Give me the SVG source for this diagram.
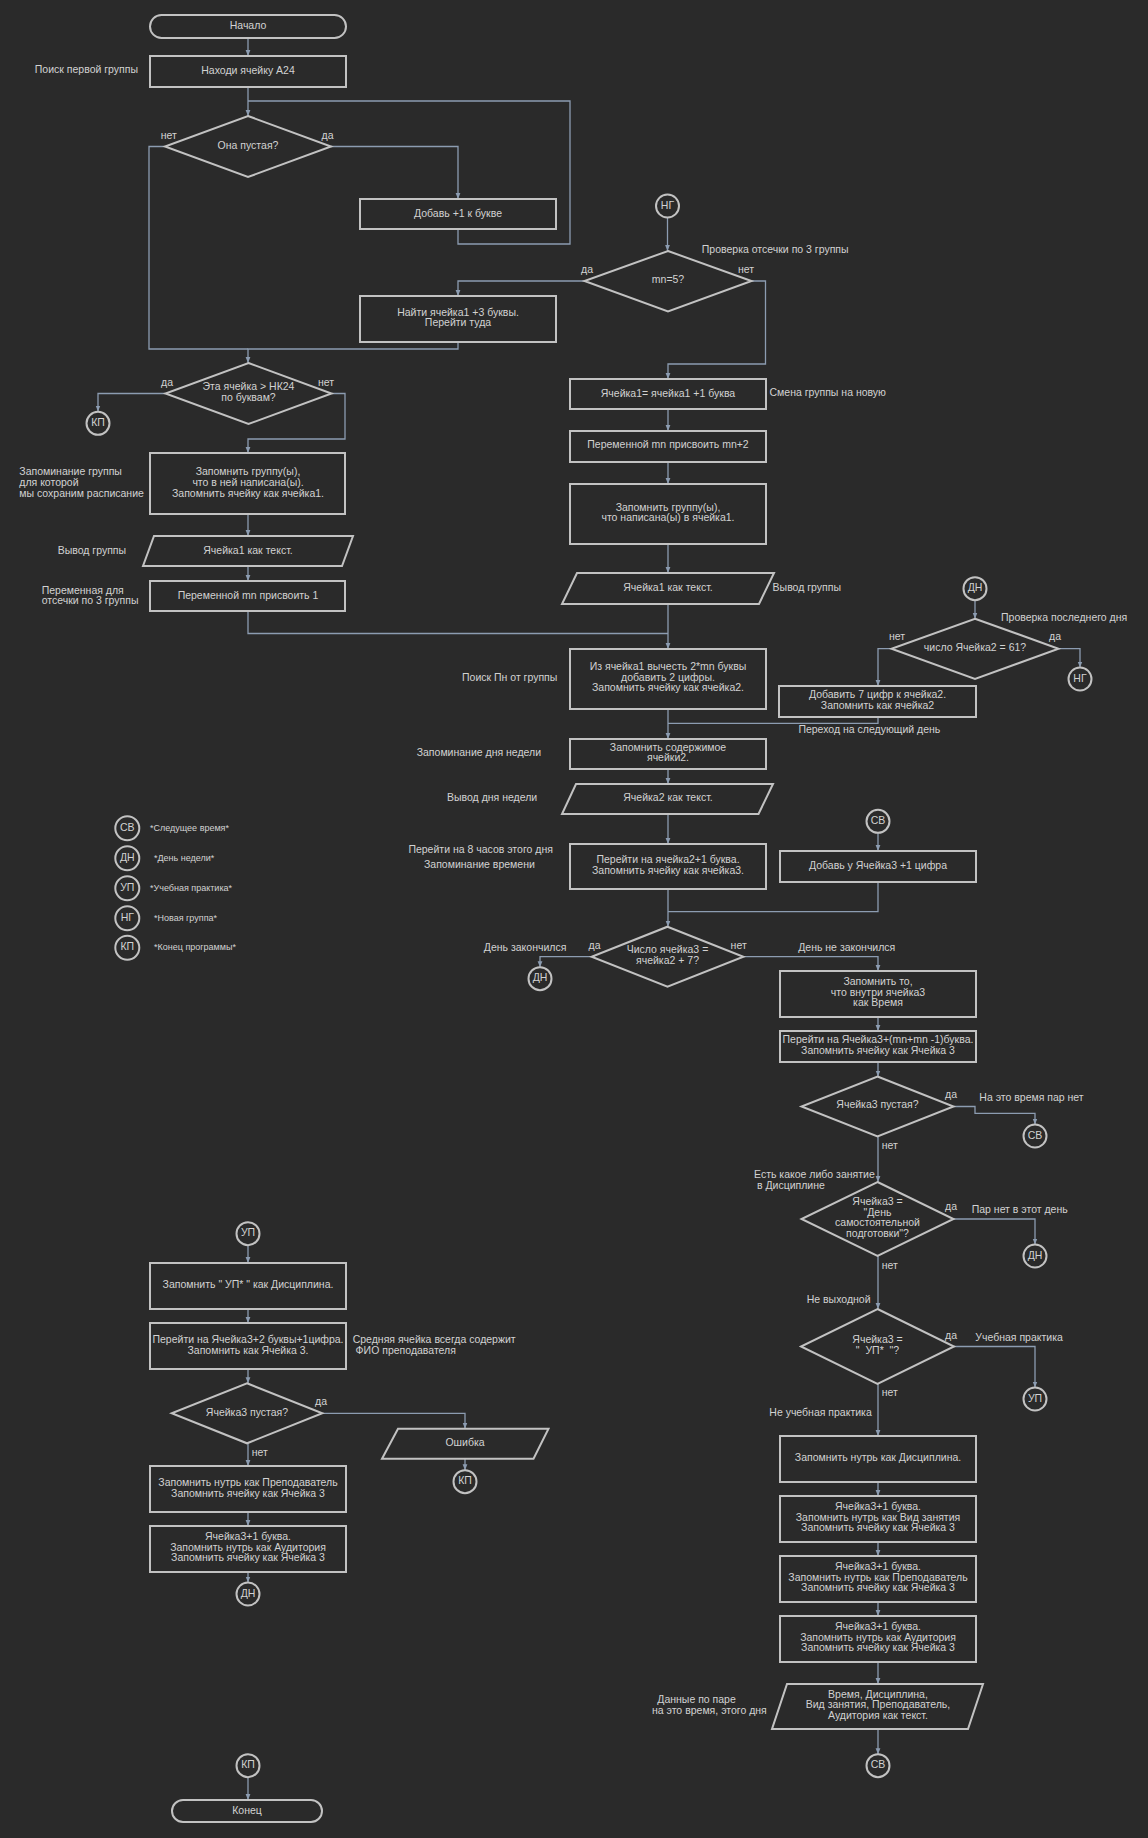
<svg xmlns="http://www.w3.org/2000/svg" width="1148" height="1838" viewBox="0 0 1148 1838">
<defs>
<marker id="a" viewBox="0 0 6 6" refX="6" refY="3" markerWidth="6" markerHeight="6" markerUnits="userSpaceOnUse" orient="auto"><path d="M0,0.6 L6,3 L0,5.4 z" fill="#8c9cb1"/></marker>
<style>
.n{fill:#2a2a2a;stroke:#c2c2c2;stroke-width:2}
.c{fill:none;stroke:#8c9cb1;stroke-width:1.3;marker-end:url(#a)}
.j{fill:none;stroke:#8c9cb1;stroke-width:1.3}
text{font-family:"Liberation Sans",Arial,sans-serif;font-size:10.5px;fill:#d2d2d2}
.m{text-anchor:middle}
.e{text-anchor:end}
.lg{font-size:9px}
.p{white-space:pre}
</style>
</defs>
<rect width="1148" height="1838" fill="#2a2a2a"/>

<g id="connectors">
<path class="c" d="M248,38 V56"/>
<path class="c" d="M248,87 V116"/>
<path class="j" d="M458,229 V244 H570 V101 H248"/>
<path class="c" d="M330.5,146.5 H458 V199"/>
<path class="j" d="M164.5,146.5 H149 V349 H248"/>
<path class="c" d="M458,342 V349 H248 V363"/>
<path class="c" d="M584.5,281 H458 V296"/>
<path class="c" d="M667.5,217.5 V251"/>
<path class="c" d="M751.5,281 H765.5 V364 H668 V379"/>
<path class="c" d="M165.5,393.5 H98 V411.5"/>
<path class="c" d="M331.5,393.5 H345 V439 H248 V453"/>
<path class="c" d="M248,514 V536"/>
<path class="c" d="M248,566 V581"/>
<path class="j" d="M248,611 V633.5 H668"/>
<path class="c" d="M668,409 V431"/>
<path class="c" d="M668,462 V484"/>
<path class="c" d="M668,544 V573"/>
<path class="c" d="M668,604 V649"/>
<path class="c" d="M975,600.2 V618.7"/>
<path class="c" d="M1058.5,648.7 H1080 V667.5"/>
<path class="c" d="M891.5,648.7 H878 V686"/>
<path class="j" d="M878,717 V723.3 H668"/>
<path class="c" d="M668,709 V739"/>
<path class="c" d="M668,769 V784"/>
<path class="c" d="M668,814 V844"/>
<path class="c" d="M878,833 V851"/>
<path class="j" d="M878,882 V911.7 H668"/>
<path class="c" d="M668,889 V926.7"/>
<path class="c" d="M591.6,956.7 H540 V967.2"/>
<path class="c" d="M743.4,956.7 H878 V971"/>
<path class="c" d="M878,1017 V1031"/>
<path class="c" d="M878,1062 V1076.5"/>
<path class="c" d="M953.5,1106.5 H975 V1113.3 H1035 V1124.5"/>
<path class="c" d="M878,1136.5 V1182"/>
<path class="c" d="M953.5,1219 H1035 V1244.5"/>
<path class="c" d="M878,1256 V1309"/>
<path class="c" d="M954,1346.5 H1035 V1387.5"/>
<path class="c" d="M878,1384 V1436"/>
<path class="c" d="M878,1482 V1496"/>
<path class="c" d="M878,1542 V1556"/>
<path class="c" d="M878,1602 V1616"/>
<path class="c" d="M878,1662 V1684"/>
<path class="c" d="M878,1729 V1754.2"/>
<path class="c" d="M248,1245.2 V1263"/>
<path class="c" d="M248,1309 V1323"/>
<path class="c" d="M248,1369 V1383.3"/>
<path class="c" d="M322.3,1413.3 H465 V1428.7"/>
<path class="c" d="M465,1458.7 V1470.2"/>
<path class="c" d="M248,1443.3 V1466"/>
<path class="c" d="M248,1512 V1526"/>
<path class="c" d="M248,1572 V1582.5"/>
<path class="c" d="M248,1777.2 V1800"/>
</g>

<g id="start"><rect class="n" x="150" y="15" width="196" height="23" rx="11.5"/><text class="m" x="248" y="29">Начало</text></g>
<g id="find_a24"><rect class="n" x="150" y="56" width="196" height="31"/><text class="m" x="248" y="73.5">Находи ячейку А24</text></g>
<g id="dec_empty1"><polygon class="n" points="248,116 331,146.5 248,177 165,146.5"/><text class="m" x="248" y="148.5">Она пустая?</text></g>
<g id="add_letter"><rect class="n" x="360" y="199" width="196" height="30"/><text class="m" x="458" y="216.5">Добавь +1 к букве</text></g>
<g id="find_cell1"><rect class="n" x="360" y="296" width="196" height="46"/><text class="m" x="458" y="315.8">Найти ячейка1 +3 буквы.</text><text class="m" x="458" y="326">Перейти туда</text></g>
<g id="dec_nk24"><polygon class="n" points="248.5,363 331.5,393.5 248.5,424 165.5,393.5"/><text class="m" x="248.5" y="389.8">Эта ячейка &gt; НК24</text><text class="m" x="248.5" y="400.8">по буквам?</text></g>
<g id="kp1"><circle class="n" cx="98" cy="423.3" r="11.5"/><text class="m" x="98" y="425.8">КП</text></g>
<g id="rem_group"><rect class="n" x="150" y="453" width="195" height="61"/><text class="m" x="248" y="474.5">Запомнить группу(ы),</text><text class="m" x="248" y="485.5">что в ней написана(ы).</text><text class="m" x="248" y="496.5">Запомнить ячейку как ячейка1.</text></g>
<g id="out_group1"><polygon class="n" points="154,536 353,536 342,566 143,566"/><text class="m" x="248" y="553.5">Ячейка1 как текст.</text></g>
<g id="mn1"><rect class="n" x="150" y="581" width="195" height="30"/><text class="m" x="248" y="598.5">Переменной mn присвоить 1</text></g>

<g id="ng1"><circle class="n" cx="667.5" cy="206" r="11.5"/><text class="m" x="667.5" y="208.5">НГ</text></g>
<g id="dec_mn5"><polygon class="n" points="668,251 751.5,281 668,311.5 584.5,281"/><text class="m" x="668" y="283">mn=5?</text></g>
<g id="next_group"><rect class="n" x="570" y="379" width="196" height="30"/><text class="m" x="668" y="396.5">Ячейка1= ячейка1 +1 буква</text></g>
<g id="mn2"><rect class="n" x="570" y="431" width="196" height="31"/><text class="m" x="668" y="448.2">Переменной mn присвоить mn+2</text></g>
<g id="rem_group2"><rect class="n" x="570" y="484" width="196" height="60"/><text class="m" x="668" y="510.8">Запомнить группу(ы),</text><text class="m" x="668" y="521.2">что написана(ы) в ячейка1.</text></g>
<g id="out_group2"><polygon class="n" points="577,573 774,573 759,604 562,604"/><text class="m" x="668" y="591.2">Ячейка1 как текст.</text></g>
<g id="find_mon"><rect class="n" x="570" y="649" width="196" height="60"/><text class="m" x="668" y="669.8">Из ячейка1 вычесть 2*mn буквы</text><text class="m" x="668" y="680.8">добавить 2 цифры.</text><text class="m" x="668" y="690.8">Запомнить ячейку как ячейка2.</text></g>
<g id="rem_day"><rect class="n" x="570" y="739" width="196" height="30"/><text class="m" x="668" y="750.8">Запомнить содержимое</text><text class="m" x="668" y="760.8">ячейки2.</text></g>
<g id="out_day"><polygon class="n" points="576,784 773,784 758.5,814 562,814"/><text class="m" x="668" y="801.2">Ячейка2 как текст.</text></g>
<g id="goto_8"><rect class="n" x="570" y="844" width="196" height="45"/><text class="m" x="668" y="862.8">Перейти на ячейка2+1 буква.</text><text class="m" x="668" y="874.2">Запомнить ячейку как ячейка3.</text></g>
<g id="dec_dayend"><polygon class="n" points="667.5,926.7 743.4,956.7 667.5,986.7 591.6,956.7"/><text class="m" x="667.5" y="952.5">Число ячейка3 =</text><text class="m" x="667.5" y="963.5">ячейка2 + 7?</text></g>
<g id="dn1"><circle class="n" cx="540" cy="978.7" r="11.5"/><text class="m" x="540" y="981.2">ДН</text></g>

<g id="dn2"><circle class="n" cx="975" cy="588.7" r="11.5"/><text class="m" x="975" y="591.2">ДН</text></g>
<g id="dec_61"><polygon class="n" points="975,618.7 1058.5,648.7 975,679 891.5,648.7"/><text class="m" x="975" y="651.2">число Ячейка2 = 61?</text></g>
<g id="ng2"><circle class="n" cx="1080" cy="679" r="11.5"/><text class="m" x="1080" y="681.5">НГ</text></g>
<g id="add7"><rect class="n" x="779" y="686" width="197" height="31"/><text class="m" x="877.5" y="697.8">Добавить 7 цифр к ячейка2.</text><text class="m" x="877.5" y="708.5">Запомнить как ячейка2</text></g>
<g id="sv1"><circle class="n" cx="878" cy="821.3" r="11.5"/><text class="m" x="878" y="823.8">СВ</text></g>
<g id="add_digit"><rect class="n" x="780" y="851" width="196" height="31"/><text class="m" x="878" y="869.2">Добавь у Ячейка3 +1 цифра</text></g>
<g id="rem_time"><rect class="n" x="780" y="971" width="196" height="46"/><text class="m" x="878" y="985.2">Запомнить то,</text><text class="m" x="878" y="995.8">что внутри ячейка3</text><text class="m" x="878" y="1006.2">как Время</text></g>
<g id="goto_disc"><rect class="n" x="780" y="1031" width="196" height="31"/><text class="m" x="878" y="1043.2">Перейти на Ячейка3+(mn+mn -1)буква.</text><text class="m" x="878" y="1053.8">Запомнить ячейку как Ячейка 3</text></g>
<g id="dec_empty3"><polygon class="n" points="877.5,1076.5 953.5,1106.5 877.5,1136.5 801.5,1106.5"/><text class="m" x="877.5" y="1108">Ячейка3 пустая?</text></g>
<g id="sv2"><circle class="n" cx="1035" cy="1136" r="11.5"/><text class="m" x="1035" y="1138.5">СВ</text></g>
<g id="dec_dsp"><polygon class="n" points="877.5,1182 953.5,1219 877.5,1256 801.5,1219"/><text class="m" x="877.5" y="1204.8">Ячейка3 =</text><text class="m" x="877.5" y="1215.8">"День</text><text class="m" x="877.5" y="1226.2">самостоятельной</text><text class="m" x="877.5" y="1236.5">подготовки"?</text></g>
<g id="dn3"><circle class="n" cx="1035" cy="1256" r="11.5"/><text class="m" x="1035" y="1258.5">ДН</text></g>
<g id="dec_up"><polygon class="n" points="877.5,1309 954,1346.5 877.5,1384 801,1346.5"/><text class="m" x="877.5" y="1342.5">Ячейка3 =</text><text class="m p" x="877.5" y="1353.5">"  УП*  "?</text></g>
<g id="up1"><circle class="n" cx="1035" cy="1399" r="11.5"/><text class="m" x="1035" y="1401.5">УП</text></g>
<g id="rem_disc"><rect class="n" x="780" y="1436" width="196" height="46"/><text class="m" x="878" y="1460.8">Запомнить нутрь как Дисциплина.</text></g>
<g id="rem_vid"><rect class="n" x="780" y="1496" width="196" height="46"/><text class="m" x="878" y="1509.8">Ячейка3+1 буква.</text><text class="m" x="878" y="1520.8">Запомнить нутрь как Вид занятия</text><text class="m" x="878" y="1530.8">Запомнить ячейку как Ячейка 3</text></g>
<g id="rem_prep"><rect class="n" x="780" y="1556" width="196" height="46"/><text class="m" x="878" y="1569.8">Ячейка3+1 буква.</text><text class="m" x="878" y="1580.8">Запомнить нутрь как Преподаватель</text><text class="m" x="878" y="1590.8">Запомнить ячейку как Ячейка 3</text></g>
<g id="rem_aud"><rect class="n" x="780" y="1616" width="196" height="46"/><text class="m" x="878" y="1629.8">Ячейка3+1 буква.</text><text class="m" x="878" y="1640.8">Запомнить нутрь как Аудитория</text><text class="m" x="878" y="1650.8">Запомнить ячейку как Ячейка 3</text></g>
<g id="out_data"><polygon class="n" points="787,1684 983,1684 968,1729 772,1729"/><text class="m" x="878" y="1697.8">Время, Дисциплина,</text><text class="m" x="878" y="1708.2">Вид занятия, Преподаватель,</text><text class="m" x="878" y="1718.8">Аудитория как текст.</text></g>
<g id="sv3"><circle class="n" cx="878" cy="1765.7" r="11.5"/><text class="m" x="878" y="1768.2">СВ</text></g>

<g id="up2"><circle class="n" cx="248" cy="1233.7" r="11.5"/><text class="m" x="248" y="1236.2">УП</text></g>
<g id="rem_up"><rect class="n" x="150" y="1263" width="196" height="46"/><text class="m p" x="248" y="1288.2">Запомнить " УП* " как Дисциплина.</text></g>
<g id="goto_prep"><rect class="n" x="150" y="1323" width="196" height="46"/><text class="m" x="248" y="1343.2">Перейти на Ячейка3+2 буквы+1цифра.</text><text class="m" x="248" y="1354.2">Запомнить как Ячейка 3.</text></g>
<g id="dec_empty4"><polygon class="n" points="247,1383.3 322.3,1413.3 247,1443.3 171.7,1413.3"/><text class="m" x="247" y="1415.8">Ячейка3 пустая?</text></g>
<g id="out_err"><polygon class="n" points="398,1428.7 548.5,1428.7 533.5,1458.7 382,1458.7"/><text class="m" x="465" y="1445.8">Ошибка</text></g>
<g id="kp2"><circle class="n" cx="465" cy="1481.7" r="11.5"/><text class="m" x="465" y="1484.2">КП</text></g>
<g id="rem_prep2"><rect class="n" x="150" y="1466" width="196" height="46"/><text class="m" x="248" y="1486.2">Запомнить нутрь как Преподаватель</text><text class="m" x="248" y="1496.5">Запомнить ячейку как Ячейка 3</text></g>
<g id="rem_aud2"><rect class="n" x="150" y="1526" width="196" height="46"/><text class="m" x="248" y="1539.8">Ячейка3+1 буква.</text><text class="m" x="248" y="1550.8">Запомнить нутрь как Аудитория</text><text class="m" x="248" y="1560.8">Запомнить ячейку как Ячейка 3</text></g>
<g id="dn4"><circle class="n" cx="248" cy="1594" r="11.5"/><text class="m" x="248" y="1596.5">ДН</text></g>
<g id="kp3"><circle class="n" cx="248" cy="1765.7" r="11.5"/><text class="m" x="248" y="1768.2">КП</text></g>
<g id="end"><rect class="n" x="172" y="1800" width="150" height="22" rx="11"/><text class="m" x="247" y="1813.5">Конец</text></g>

<g id="legend">
<circle class="n" cx="127.3" cy="828.3" r="12"/><text class="m" x="127.3" y="830.8">СВ</text><text class="lg" x="150" y="830.5">*Следущее время*</text>
<circle class="n" cx="127.3" cy="858.3" r="12"/><text class="m" x="127.3" y="860.8">ДН</text><text class="lg" x="154" y="860.5">*День недели*</text>
<circle class="n" cx="127.3" cy="888.3" r="12"/><text class="m" x="127.3" y="890.8">УП</text><text class="lg" x="150" y="890.5">*Учебная практика*</text>
<circle class="n" cx="127.3" cy="918.3" r="12"/><text class="m" x="127.3" y="920.8">НГ</text><text class="lg" x="154" y="920.5">*Новая группа*</text>
<circle class="n" cx="127.3" cy="947.7" r="12"/><text class="m" x="127.3" y="950.2">КП</text><text class="lg" x="154" y="950">*Конец программы*</text>
</g>

<g id="labels">
<text class="e" x="138" y="73.2">Поиск первой группы</text>
<text x="160.7" y="138.5">нет</text>
<text x="321.5" y="138.5">да</text>
<text x="581" y="273.2">да</text>
<text x="738" y="273.2">нет</text>
<text x="701.8" y="253.2">Проверка отсечки по 3 группы</text>
<text x="161" y="385.5">да</text>
<text x="318" y="385.5">нет</text>
<text x="19.3" y="474.5">Запоминание группы</text>
<text x="19.3" y="485.8">для которой</text>
<text x="19.3" y="496.5">мы сохраним расписание</text>
<text x="57.7" y="553.5">Вывод группы</text>
<text x="41.7" y="593.5">Переменная для</text>
<text x="41.7" y="604.2">отсечки по 3 группы</text>
<text x="769.5" y="395.8">Смена группы на новую</text>
<text x="772.6" y="591.2">Вывод группы</text>
<text x="462" y="680.8">Поиск Пн от группы</text>
<text x="1001" y="621.2">Проверка последнего дня</text>
<text x="889" y="640.2">нет</text>
<text x="1049" y="640.2">да</text>
<text x="798.4" y="733.2">Переход на следующий день</text>
<text x="416.7" y="755.8">Запоминание дня недели</text>
<text x="447" y="801.2">Вывод дня недели</text>
<text x="408.4" y="852.8">Перейти на 8 часов этого дня</text>
<text x="424" y="868.2">Запоминание времени</text>
<text x="483.8" y="951.2">День закончился</text>
<text x="588.6" y="948.5">да</text>
<text x="730.6" y="948.5">нет</text>
<text x="798.2" y="951.2">День не закончился</text>
<text x="945" y="1098.2">да</text>
<text x="979.3" y="1100.8">На это время пар нет</text>
<text x="881.7" y="1149.2">нет</text>
<text x="754" y="1177.8">Есть какое либо занятие</text>
<text class="p" x="754" y="1188.8"> в Дисциплине</text>
<text x="945" y="1209.8">да</text>
<text x="971.7" y="1213.2">Пар нет в этот день</text>
<text x="881.7" y="1269.2">нет</text>
<text x="806.7" y="1302.5">Не выходной</text>
<text x="945" y="1338.5">да</text>
<text x="975.3" y="1340.8">Учебная практика</text>
<text x="881.7" y="1395.8">нет</text>
<text x="769.3" y="1415.8">Не учебная практика</text>
<text x="657.3" y="1702.8">Данные по паре</text>
<text x="652" y="1713.8">на это время, этого дня</text>
<text x="352.7" y="1343.2">Средняя ячейка всегда содержит</text>
<text class="p" x="352.7" y="1354.2"> ФИО преподавателя</text>
<text x="315" y="1404.8">да</text>
<text x="251.7" y="1455.8">нет</text>
</g>
</svg>
